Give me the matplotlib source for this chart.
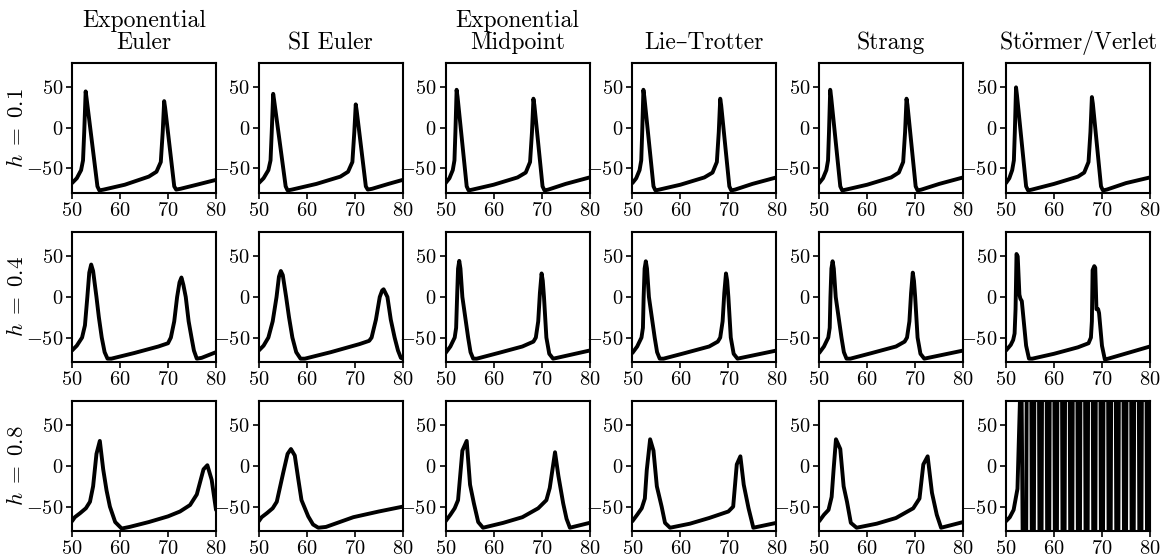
import matplotlib
matplotlib.use("Agg")
import matplotlib.pyplot as plt

plt.rcParams['font.family'] = ['cmr10', 'DejaVu Serif']
plt.rcParams['mathtext.fontset'] = 'cm'
plt.rcParams['axes.unicode_minus'] = False

# column titles and row labels
methods = ["Exponential\nEuler", "SI Euler", "Exponential\nMidpoint",
           "Lie\u2013Trotter", "Strang", r"St$\ddot{\rm o}$rmer/Verlet"]
step_labels = [r"$h\;=\;0.1$", r"$h\;=\;0.4$", r"$h\;=\;0.8$"]
xticks = [50, 60, 70, 80]
xtick_labels = [r"$50$", r"$60$", r"$70$", r"$80$"]
yticks = [-50, 0, 50]
ytick_labels = [r"$-50$", r"$0$", r"$50$"]

# ---- h = 0.1 ----
t_ee_1 = [50, 51.0, 51.9, 52.3, 52.55, 52.85, 53.05, 55.3, 55.7, 56.6, 61, 66, 67.6, 68.5, 68.9, 69.2, 69.4, 71.3, 71.7, 72.6, 76, 80]
v_ee_1 = [-68, -62, -52, -40, -5, 45, 36, -72, -77, -76, -70, -60, -54, -42, -5, 33, 25, -72, -76, -75, -70, -64]
t_si_1 = [50, 51.0, 52.0, 52.45, 52.7, 53.0, 53.2, 55.6, 56.0, 56.9, 62, 67, 68.6, 69.5, 69.9, 70.2, 70.4, 72.3, 72.7, 73.6, 77, 80]
v_si_1 = [-68, -62, -52, -40, -5, 42, 34, -72, -77, -76, -69, -60, -54, -42, -5, 29, 21, -72, -76, -75, -69, -64]
t_em_1 = [50, 50.8, 51.5, 51.85, 52.05, 52.3, 52.5, 54.4, 54.8, 55.6, 60, 65, 66.7, 67.6, 68.0, 68.3, 68.5, 70.2, 70.6, 71.4, 75, 80]
v_em_1 = [-68, -62, -52, -40, -5, 47, 38, -72, -77, -76, -70, -61, -55, -42, -5, 36, 28, -72, -77, -76, -69, -61]
t_lt_1 = [50, 50.8, 51.5, 51.85, 52.05, 52.3, 52.5, 54.4, 54.8, 55.6, 60, 65, 66.7, 67.6, 68.0, 68.3, 68.5, 70.2, 70.6, 71.4, 75, 80]
v_lt_1 = [-68, -62, -52, -40, -5, 47, 38, -72, -77, -76, -70, -61, -55, -42, -5, 36, 28, -72, -77, -76, -69, -61]
t_st_1 = [50, 50.8, 51.5, 51.85, 52.05, 52.3, 52.5, 54.4, 54.8, 55.6, 60, 65, 66.6, 67.5, 67.9, 68.2, 68.4, 70.1, 70.5, 71.3, 75, 80]
v_st_1 = [-68, -62, -52, -40, -5, 47, 38, -72, -77, -76, -70, -61, -55, -42, -5, 36, 28, -72, -77, -76, -69, -61]
t_sv_1 = [50, 50.7, 51.3, 51.65, 51.85, 52.1, 52.3, 54.2, 54.6, 55.4, 60, 65, 66.3, 67.2, 67.6, 67.9, 68.1, 69.8, 70.2, 71.0, 75, 80]
v_sv_1 = [-68, -62, -52, -40, -5, 50, 40, -72, -77, -76, -69, -60, -55, -42, -5, 38, 30, -72, -77, -76, -68, -61]

# ---- h = 0.4 ----
t_ee_4 = [50, 51.0, 52.1, 52.7, 53.2, 53.6, 54.0, 54.4, 55.1, 55.6, 56.2, 56.8, 57.4, 58.2, 63, 68, 70.0, 70.6, 71.3, 71.9, 72.4, 72.8, 73.2, 73.7, 74.3, 74.9, 75.4, 76.0, 77, 80]
v_ee_4 = [-66, -60, -50, -35, 0, 30, 40, 32, 0, -25, -50, -68, -76, -76, -69, -61, -57, -50, -30, 0, 18, 24, 15, 0, -30, -50, -66, -76, -75, -68]
t_si_4 = [50, 51.0, 52.0, 52.9, 53.7, 54.2, 54.6, 55.0, 55.7, 56.3, 57.0, 57.8, 58.7, 59.6, 65, 71, 73.0, 73.5, 74.4, 75.2, 75.7, 76.0, 76.3, 76.8, 77.5, 78.3, 79.0, 79.6, 80]
v_si_4 = [-66, -60, -50, -30, 0, 25, 32, 27, 0, -25, -50, -68, -76, -76, -68, -58, -54, -50, -28, 0, 8, 9.5, 6, 0, -28, -50, -66, -75, -76]
t_em_4 = [50, 51.0, 51.9, 52.2, 52.4, 52.6, 52.85, 53.1, 53.5, 54.1, 54.7, 55.2, 55.75, 56.5, 61, 66, 68.3, 68.8, 69.3, 69.65, 70.0, 70.25, 70.5, 71.0, 71.6, 72.4, 73.2, 80]
v_em_4 = [-69, -61, -50, -38, 0, 35, 44.5, 35, 0, -25, -50, -68, -76, -76, -69, -61, -55, -50, -30, 5, 29, 20, 0, -50, -70, -76, -75, -66]
t_lt_4 = [50, 51.0, 51.9, 52.2, 52.35, 52.55, 52.8, 53.05, 53.45, 54.05, 54.65, 55.15, 55.7, 56.5, 61, 66, 67.8, 68.3, 68.8, 69.15, 69.5, 69.75, 70.0, 70.5, 71.1, 71.9, 72.7, 80]
v_lt_4 = [-69, -61, -50, -38, 0, 35, 44, 35, 0, -25, -50, -68, -76, -76, -69, -61, -55, -50, -30, 5, 29, 20, 0, -50, -70, -76, -75, -66]
t_st_4 = [50, 51.0, 51.9, 52.2, 52.35, 52.55, 52.8, 53.05, 53.45, 54.05, 54.65, 55.15, 55.7, 56.5, 61, 66, 67.8, 68.3, 68.8, 69.15, 69.5, 69.75, 70.0, 70.5, 71.1, 71.9, 72.7, 80]
v_st_4 = [-69, -61, -50, -38, 0, 35, 44, 35, 0, -25, -50, -68, -76, -76, -69, -61, -55, -50, -30, 5, 30, 20, 0, -50, -70, -76, -75, -66]
t_sv_4 = [50, 51.0, 51.5, 51.8, 52.0, 52.2, 52.45, 52.8, 53.0, 53.3, 54.2, 54.8, 55.5, 60, 65, 67.2, 67.7, 67.9, 68.05, 68.4, 68.6, 68.85, 69.2, 69.4, 70.0, 70.6, 71.3, 80]
v_sv_4 = [-66, -59, -53, -45, -15, 53, 50, 3, -2, -5, -60, -76, -76, -70, -62, -57, -50, -30, 33, 38, 36, -15, -15, -20, -60, -77, -76, -61]

# ---- h = 0.8 ----
t_ee_8 = [50, 50.6, 51.7, 52.9, 53.75, 54.4, 55.1, 55.8, 56.5, 57.2, 57.9, 59.0, 60.35, 62, 66, 70, 72.5, 74.6, 76.0, 77.4, 78.2, 79.1, 80]
v_ee_8 = [-68, -63, -58, -52, -44, -25, 15, 31, -4, -30, -50, -69, -77, -75, -69, -62, -56, -48, -35, -4, 1, -17, -54]
t_si_8 = [50, 50.6, 51.7, 52.9, 53.75, 55.1, 56.0, 56.7, 57.5, 58.2, 58.9, 60.3, 61.3, 62.4, 64, 69.7, 75, 80]
v_si_8 = [-68, -63, -58, -52, -44, -8, 15, 21, 13, -15, -42, -62, -72, -76, -75, -63, -56, -50]
t_em_8 = [50, 51.0, 51.9, 52.6, 53.5, 54.4, 55.1, 55.9, 56.8, 57.8, 62, 66, 69.3, 71.0, 71.7, 72.8, 73.5, 74.5, 75.2, 75.9, 80]
v_em_8 = [-68, -60, -52, -42, 19, 31, -23, -46, -69, -76, -70, -63, -52, -42, -27, 17, -12, -46, -65, -76, -70]
t_lt_8 = [50, 51.0, 51.95, 52.6, 53.0, 53.7, 54.4, 55.1, 56.1, 56.8, 57.85, 62, 66, 70.0, 71.0, 71.75, 72.5, 73.2, 74.2, 75.2, 80]
v_lt_8 = [-68, -60, -52, -40, -5, 33, 19, -25, -50, -70, -76, -71, -64, -56, -50, 2, 12, -23, -52, -76, -70]
t_st_8 = [50, 51.0, 51.95, 52.6, 53.0, 53.5, 54.4, 55.1, 55.8, 56.6, 57.8, 62, 66, 69.6, 70.9, 71.7, 72.6, 73.5, 74.5, 75.4, 80]
v_st_8 = [-68, -60, -54, -38, -5, 33, 21, -25, -44, -70, -76, -71, -64, -52, -40, 2, 12, -33, -60, -76, -69]
# Störmer/Verlet at h = 0.8 blows up: values swing far outside the plotted range
t_sv_8 = [50, 50.8, 51.6, 52.4, 53.2, 54.0, 54.8, 55.6, 56.4, 57.2, 58.0, 58.8, 59.6, 60.4, 61.2, 62.0, 62.8, 63.6, 64.4,
          65.2, 66.0, 66.8, 67.6, 68.4, 69.2, 70.0, 70.8, 71.6, 72.4, 73.2, 74.0, 74.8, 75.6, 76.4, 77.2, 78.0, 78.8, 79.6, 80.4]
v_sv_8 = [-68, -63, -54, -28, 140, -500, 1000, -500, 1000, -500, 1000, -500, 1000, -500, 1000, -500, 1000, -500, 1000,
          -500, 1000, -500, 1000, -500, 1000, -500, 1000, -500, 1000, -500, 1000, -500, 1000, -500, 1000, -500, 1000, -500, 1000]

rows = [
    [(t_ee_1, v_ee_1), (t_si_1, v_si_1), (t_em_1, v_em_1), (t_lt_1, v_lt_1), (t_st_1, v_st_1), (t_sv_1, v_sv_1)],
    [(t_ee_4, v_ee_4), (t_si_4, v_si_4), (t_em_4, v_em_4), (t_lt_4, v_lt_4), (t_st_4, v_st_4), (t_sv_4, v_sv_4)],
    [(t_ee_8, v_ee_8), (t_si_8, v_si_8), (t_em_8, v_em_8), (t_lt_8, v_lt_8), (t_st_8, v_st_8), (t_sv_8, v_sv_8)],
]

fig, axes = plt.subplots(3, 6, figsize=(11.61, 5.56), dpi=100)
fig.subplots_adjust(left=0.062, right=0.9905, bottom=0.045, top=0.8867,
                    wspace=0.297, hspace=0.302)

for i, row in enumerate(rows):
    for j, (t, v) in enumerate(row):
        ax = axes[i, j]
        ax.plot(t, v, color='black', lw=2.8, solid_joinstyle='round', solid_capstyle='round')
        ax.set_xlim(50, 80)
        ax.set_ylim(-80, 80)
        ax.set_xticks(xticks, labels=xtick_labels)
        ax.set_yticks(yticks, labels=ytick_labels)
        ax.tick_params(direction='out', length=4.3, width=1.2, labelsize=14.7, pad=2)
        for s in ax.spines.values():
            s.set_linewidth(1.5)
        if i == 0:
            ax.set_title(methods[j], fontsize=17, pad=10, linespacing=1.0)
        if j == 0:
            ax.set_ylabel(step_labels[i], fontsize=16.5)
            ax.yaxis.set_label_coords(-0.31, 0.5)

fig.savefig("out.png", dpi=100)
